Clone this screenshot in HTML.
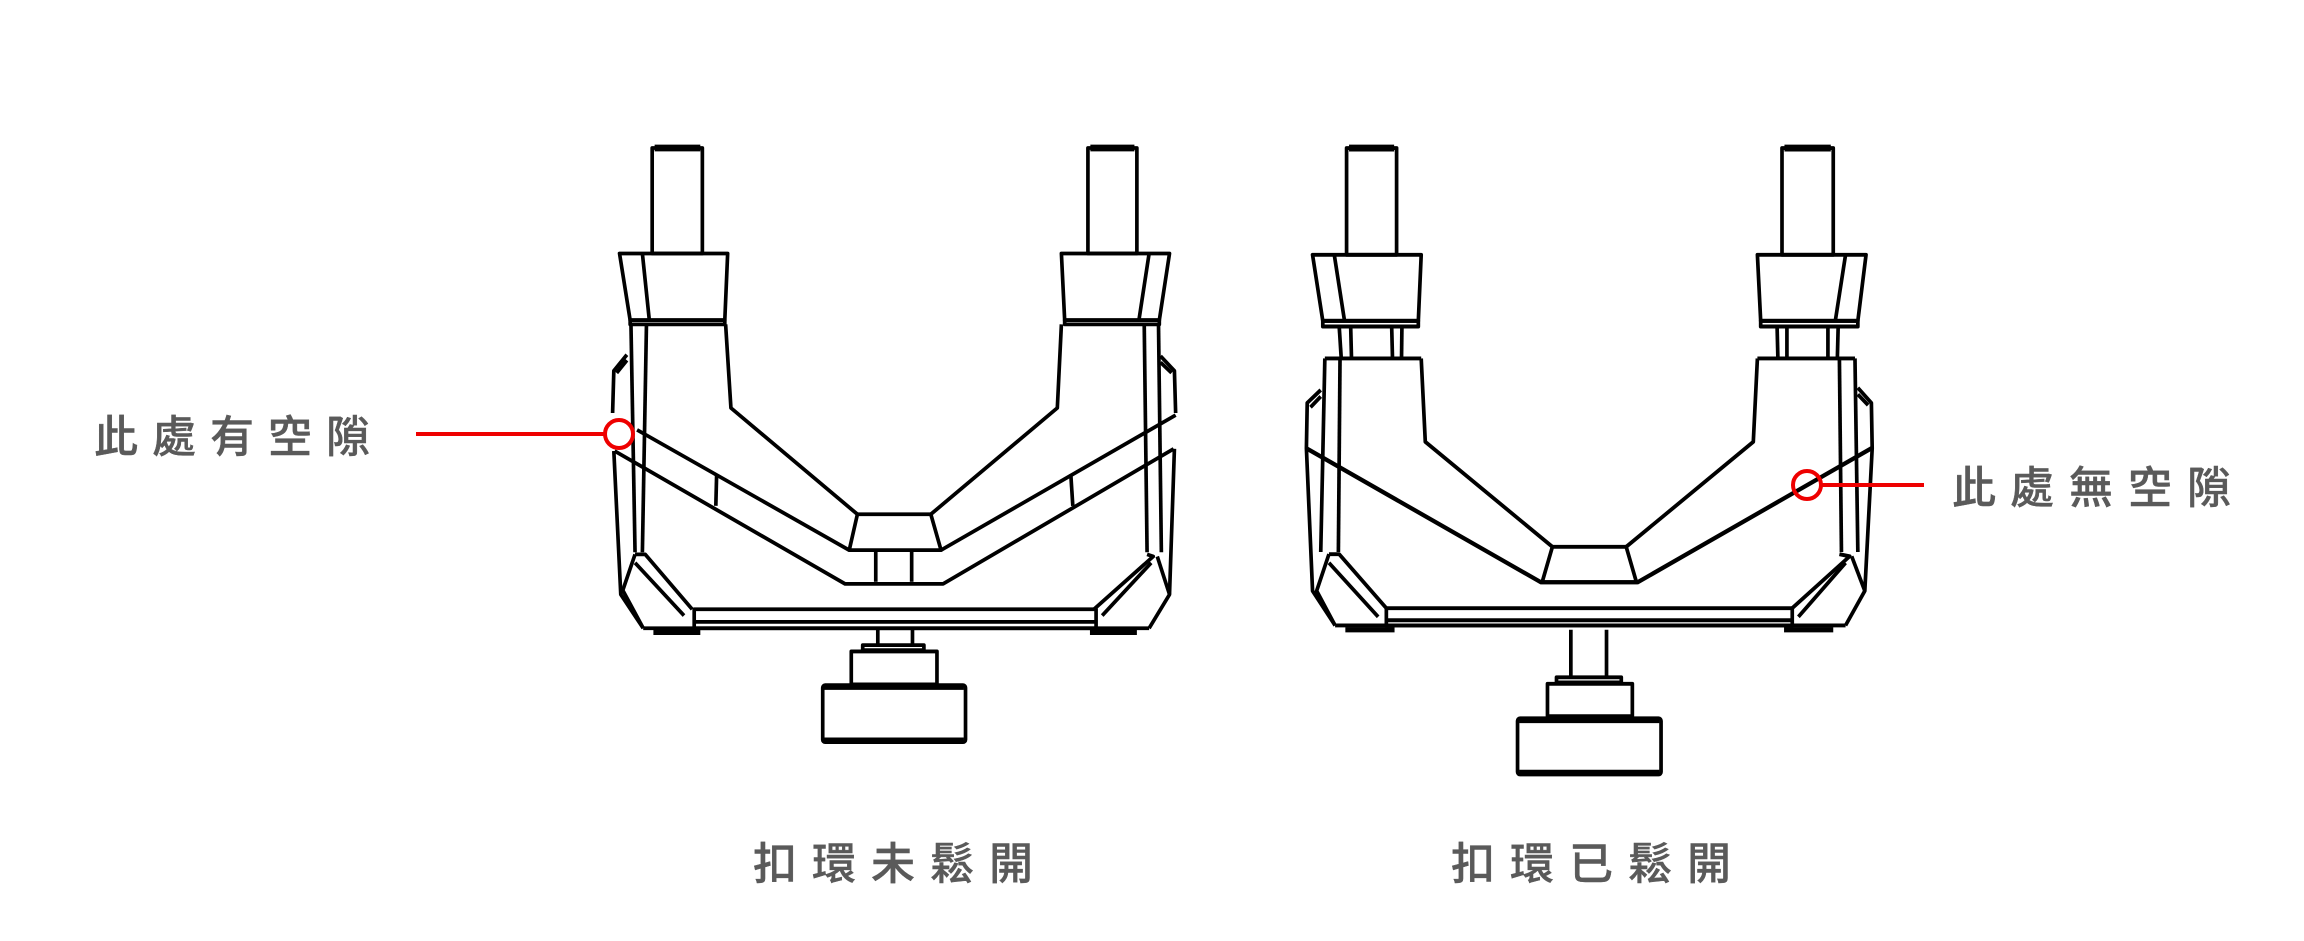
<!DOCTYPE html>
<html><head><meta charset="utf-8"><style>
html,body{margin:0;padding:0;background:#fff;}
svg{display:block;}
text{font-family:"Liberation Sans","Noto Sans CJK TC",sans-serif;font-size:44px;fill:#5a5a5a;stroke:#5a5a5a;stroke-width:0.4;font-weight:500;text-anchor:middle;}
</style></head><body>
<svg width="2304" height="941" viewBox="0 0 2304 941" xmlns="http://www.w3.org/2000/svg">
<rect width="2304" height="941" fill="#fff"/>

<g transform="translate(582,117.6) scale(0.408,0.422)" fill="none" stroke="#000" stroke-width="9" stroke-linejoin="round">
  <rect x="172" y="72" width="123" height="250"/>
  <line x1="178" y1="72" x2="290" y2="72" stroke-width="16"/>
  <rect x="1240" y="72" width="120" height="250"/>
  <line x1="1246" y1="72" x2="1354" y2="72" stroke-width="16"/>
  <polygon points="92,322 357,322 350,480 118,480"/>
  <line x1="148" y1="322" x2="165" y2="480"/>
  <rect x="118" y="480" width="232" height="10"/>
  <polygon points="1175,322 1440,322 1415,480 1183,480"/>
  <line x1="1390" y1="322" x2="1365" y2="480"/>
  <rect x="1183" y="480" width="232" height="10"/>
  <polyline points="352,490 365,688 675,940"/>
  <polyline points="1175,490 1165,688 855,940"/>
  <line x1="120" y1="490" x2="130" y2="1030"/>
  <line x1="158" y1="490" x2="148" y2="1030"/>
  <line x1="1378" y1="490" x2="1385" y2="1030"/>
  <line x1="1413" y1="490" x2="1420" y2="1030"/>
  <polyline points="110,562 78,600 75,700"/>
  <line x1="110" y1="575" x2="85" y2="605"/>
  <polyline points="78,790 95,1130 150,1210"/>
  <polyline points="1418,565 1452,600 1455,700"/>
  <line x1="1418" y1="580" x2="1445" y2="605"/>
  <polyline points="1452,785 1440,1130 1390,1210"/>
  <line x1="135" y1="740" x2="655" y2="1025"/>
  <polyline points="80,790 645,1105 885,1105 1450,785"/>
  <line x1="880" y1="1025" x2="1455" y2="705"/>
  <line x1="330" y1="845" x2="328" y2="920"/>
  <line x1="1198" y1="845" x2="1203" y2="920"/>
  <polygon points="675,940 855,940 880,1025 655,1025"/>
  <line x1="720" y1="1025" x2="720" y2="1100"/>
  <line x1="808" y1="1025" x2="808" y2="1100"/>
  <polyline points="130,1035 155,1035 270,1165"/>
  <polyline points="130,1035 100,1120 150,1210"/>
  <line x1="130" y1="1055" x2="250" y2="1180"/>
  <polyline points="1385,1035 1400,1040 1255,1165"/>
  <polyline points="1410,1040 1440,1130"/>
  <line x1="1395" y1="1055" x2="1275" y2="1180"/>
  <rect x="275" y="1165" width="985" height="45"/>
  <line x1="275" y1="1195" x2="1260" y2="1195"/>
  <line x1="150" y1="1210" x2="1390" y2="1210"/>
  <line x1="175" y1="1220" x2="290" y2="1220" stroke-width="12"/>
  <line x1="1245" y1="1220" x2="1360" y2="1220" stroke-width="12"/>
  <line x1="725" y1="1210" x2="725" y2="1250"/>
  <line x1="810" y1="1210" x2="810" y2="1250"/>
  <rect x="688" y="1250" width="150" height="12"/>
  <rect x="660" y="1265" width="210" height="78"/>
  <rect x="590" y="1345" width="350" height="135" rx="6"/>
  <line x1="594" y1="1349" x2="936" y2="1349" stroke-width="14"/>
  <line x1="594" y1="1476" x2="936" y2="1476" stroke-width="14"/>
</g>

<g transform="translate(1290,120) scale(0.41,0.432)" fill="none" stroke="#000" stroke-width="9" stroke-linejoin="round">
  <rect x="138" y="65" width="122" height="247"/>
  <line x1="144" y1="65" x2="254" y2="65" stroke-width="16"/>
  <rect x="1200" y="65" width="125" height="247"/>
  <line x1="1206" y1="65" x2="1319" y2="65" stroke-width="16"/>
  <polygon points="55,312 320,312 313,465 80,465"/>
  <line x1="108" y1="312" x2="133" y2="465"/>
  <rect x="80" y="465" width="233" height="13"/>
  <polygon points="1140,312 1405,312 1385,465 1148,465"/>
  <line x1="1355" y1="312" x2="1330" y2="465"/>
  <rect x="1148" y="465" width="237" height="13"/>
  <line x1="120" y1="478" x2="125" y2="552"/><line x1="148" y1="478" x2="150" y2="552"/>
  <line x1="248" y1="478" x2="250" y2="552"/><line x1="273" y1="478" x2="272" y2="552"/>
  <line x1="1188" y1="478" x2="1190" y2="552"/><line x1="1212" y1="478" x2="1212" y2="552"/>
  <line x1="1312" y1="478" x2="1312" y2="552"/><line x1="1337" y1="478" x2="1335" y2="552"/>
  <line x1="85" y1="552" x2="320" y2="552"/>
  <line x1="1140" y1="552" x2="1378" y2="552"/>
  <polyline points="320,552 330,745 640,988"/>
  <polyline points="1140,552 1130,745 820,988"/>
  <line x1="85" y1="552" x2="75" y2="1000"/>
  <line x1="122" y1="552" x2="118" y2="1000"/>
  <line x1="1340" y1="552" x2="1345" y2="1000"/>
  <line x1="1378" y1="552" x2="1385" y2="1000"/>
  <polyline points="75,625 42,655 40,760 55,1090 110,1170"/>
  <line x1="75" y1="640" x2="50" y2="665"/>
  <polyline points="1385,620 1418,655 1420,760 1402,1090 1355,1170"/>
  <line x1="1385" y1="635" x2="1410" y2="660"/>
  <polyline points="40,760 612,1070 848,1070 1418,760" stroke-width="10"/>
  <polygon points="640,988 820,988 845,1070 615,1070"/>
  <polyline points="95,1005 120,1005 235,1130"/>
  <polyline points="95,1005 65,1090 110,1170"/>
  <line x1="95" y1="1025" x2="215" y2="1150"/>
  <polyline points="1340,1005 1365,1010 1225,1130"/>
  <polyline points="1370,1010 1402,1090"/>
  <line x1="1355" y1="1025" x2="1240" y2="1150"/>
  <rect x="235" y="1130" width="990" height="40"/>
  <line x1="235" y1="1158" x2="1225" y2="1158"/>
  <line x1="110" y1="1170" x2="1355" y2="1170"/>
  <line x1="135" y1="1180" x2="255" y2="1180" stroke-width="12"/>
  <line x1="1205" y1="1180" x2="1325" y2="1180" stroke-width="12"/>
  <line x1="685" y1="1180" x2="685" y2="1290"/>
  <line x1="772" y1="1180" x2="772" y2="1290"/>
  <rect x="650" y="1290" width="158" height="12"/>
  <rect x="628" y="1305" width="207" height="75"/>
  <rect x="555" y="1385" width="350" height="130" rx="6"/>
  <line x1="559" y1="1389" x2="901" y2="1389" stroke-width="14"/>
  <line x1="559" y1="1511" x2="901" y2="1511" stroke-width="14"/>
</g>

<line x1="416" y1="434" x2="605" y2="434" stroke="#e00" stroke-width="4"/>
<circle cx="619" cy="434" r="14" fill="none" stroke="#e00" stroke-width="4"/>
<line x1="1820" y1="485" x2="1924" y2="485" stroke="#e00" stroke-width="4"/>
<circle cx="1807" cy="485" r="14" fill="none" stroke="#e00" stroke-width="4"/>

<text x="116" y="452">此</text><text x="174" y="452">處</text><text x="232" y="452">有</text><text x="290" y="452">空</text><text x="348" y="452">隙</text>
<text x="1974" y="503">此</text><text x="2032" y="503">處</text><text x="2091" y="503">無</text><text x="2150" y="503">空</text><text x="2209" y="503">隙</text>
<text x="775" y="879">扣</text><text x="834" y="879">環</text><text x="893" y="879">未</text><text x="952" y="879">鬆</text><text x="1011" y="879">開</text>
<text x="1473" y="879">扣</text><text x="1532" y="879">環</text><text x="1591" y="879">已</text><text x="1650" y="879">鬆</text><text x="1709" y="879">開</text>
</svg>
</body></html>
